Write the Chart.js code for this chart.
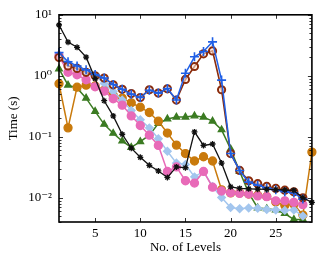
<!DOCTYPE html>
<html>
<head>
<meta charset="utf-8">
<script src="https://cdn.jsdelivr.net/npm/chart.js@4"></script>
<style>
  html, body { margin: 0; padding: 0; background: #fff; }
  #wrap { width: 318px; height: 259px; }
</style>
</head>
<body>
<div id="wrap"><canvas id="chart"></canvas></div>
<script>
// levels 1..29
const levels = Array.from({ length: 29 }, (_, i) => i + 1);

const blackTimes = [6.8, 3.56, 2.93, 2.02, 0.9, 0.39, 0.22, 0.11, 0.065, 0.046, 0.034, 0.0275, 0.0215, 0.032, 0.031,
  0.12, 0.072, 0.076, 0.037, 0.0151, 0.0142, 0.014, 0.0138, 0.0137, 0.0136, 0.0134, 0.0132, 0.010, 0.0084];
const blueTimes = [2.4, 1.7, 1.45, 1.25, 1.05, 0.92, 0.72, 0.6, 0.5, 0.44, 0.58, 0.52, 0.62, 0.4, 1.1,
  2.05, 2.5, 3.6, 0.85, 0.053, 0.028, 0.018, 0.016, 0.0145, 0.0135, 0.0125, 0.012, 0.0095];
const brownTimes = [2.0, 1.45, 1.32, 1.14, 1.0, 0.92, 0.71, 0.6, 0.51, 0.44, 0.59, 0.52, 0.61, 0.40, 0.87,
  1.42, 2.29, 2.56, 0.59, 0.053, 0.028, 0.019, 0.017, 0.0153, 0.0142, 0.0133, 0.0125, 0.010];
const pinkTimes = [2.1, 1.14, 1.04, 0.86, 0.66, 0.56, 0.42, 0.33, 0.22, 0.153, 0.106, 0.072, 0.027, 0.032, 0.019,
  0.0174, 0.027, 0.0149, 0.0129, 0.0121, 0.0118, 0.0115, 0.0107, 0.0104, 0.0089, 0.0089, 0.0084, 0.0077];
const lightBlueTimes = [2.2, 1.6, 1.4, 1.15, 1.0, 0.75, 0.55, 0.4, 0.27, 0.19, 0.14, 0.093, 0.058, 0.037, 0.035,
  0.022, 0.027, 0.0153, 0.0101, 0.0069, 0.0066, 0.0068, 0.0067, 0.0064, 0.0063, 0.0062, 0.0063, 0.005];
const orangeTimes = [0.74, 0.14, 0.65, 0.70, 0.68, 0.58, 0.48, 0.43, 0.36, 0.305, 0.25, 0.18, 0.115, 0.073, 0.053,
  0.04, 0.047, 0.04, 0.0135, 0.012, 0.012, 0.0115, 0.011, 0.0105, 0.0085, 0.0075, 0.0078, 0.0052, 0.056];
const greenTimes = [1.3, 0.7, 0.63, 0.43, 0.26, 0.16, 0.114, 0.085, 0.067, 0.083, 0.106, 0.165, 0.196, 0.21, 0.21,
  0.22, 0.21, 0.18, 0.13, 0.063, 0.027, 0.012, 0.0068, 0.0066, 0.0063, 0.0055, 0.0044, 0.0044];

const xTicks = [5, 10, 15, 20, 25];
const yTicks = [0.01, 0.1, 1, 10];
const yTickLabels = { 0.01: "10⁻²", 0.1: "10⁻¹", 1: "10⁰", 10: "10¹" };

function pts(values) {
  return values.map((v, i) => ({ x: levels[i], y: v }));
}

function series(values, color, style, radius, fill, width, pbw) {
  return {
    data: pts(values),
    borderColor: color,
    backgroundColor: color,
    borderWidth: width || 1.5,
    pointStyle: style,
    pointRadius: radius,
    pointBackgroundColor: fill || color,
    pointBorderColor: color,
    pointBorderWidth: pbw || 1.3,
    tension: 0,
    clip: false
  };
}

// pgfplots style frame with inward ticks
const frameTicks = {
  id: "frameTicks",
  afterDatasetsDraw(chart) {
    const { ctx, chartArea: a, scales: { x, y } } = chart;
    ctx.save();
    ctx.strokeStyle = "#000";
    ctx.lineWidth = 0.8;
    ctx.beginPath();
    xTicks.forEach(v => {
      const px = Math.round(x.getPixelForValue(v)) + 0.5;
      ctx.moveTo(px, a.bottom); ctx.lineTo(px, a.bottom - 4);
      ctx.moveTo(px, a.top); ctx.lineTo(px, a.top + 4);
    });
    for (let e = -3; e <= 1; e++) {
      for (let m = 1; m < 10; m++) {
        const v = m * Math.pow(10, e);
        if (v < 0.004 || v > 10) continue;
        const len = m === 1 ? 4 : 2.5;
        const py = Math.round(y.getPixelForValue(v)) + 0.5;
        ctx.moveTo(a.left, py); ctx.lineTo(a.left + len, py);
        ctx.moveTo(a.right, py); ctx.lineTo(a.right - len, py);
      }
    }
    ctx.stroke();
    ctx.lineWidth = 1.6;
    ctx.strokeRect(a.left, a.top, a.right - a.left, a.bottom - a.top);
    ctx.restore();
  }
};

const serif = "'Liberation Serif', 'DejaVu Serif', serif";

new Chart(document.getElementById("chart").getContext("2d"), {
  type: "line",
  data: {
    datasets: [
      series(blackTimes, "#111111", "star", 3, null, 1.3),
      series(blueTimes, "#1f5fe6", "cross", 4.5, null, 1.5, 1.6),
      series(brownTimes, "#8b2c0c", "circle", 3.6, "rgba(255,230,215,0.6)", 1.6, 2),
      series(pinkTimes, "#e86ab8", "circle", 4),
      series(lightBlueTimes, "#a3c6ee", "rectRot", 3.8),
      series(orangeTimes, "#c97a0c", "circle", 4),
      series(greenTimes, "#3b7b22", "triangle", 3.8)
    ]
  },
  options: {
    responsive: true,
    maintainAspectRatio: false,
    animation: false,
    layout: { padding: { top: 9, right: 2, left: 0, bottom: 0 } },
    plugins: { legend: { display: false }, tooltip: { enabled: false } },
    scales: {
      x: {
        type: "linear",
        min: 1,
        max: 29,
        afterBuildTicks: s => { s.ticks = xTicks.map(v => ({ value: v })); },
        afterFit: s => { s.height = 37; },
        grid: { display: false, drawTicks: false },
        border: { display: false },
        ticks: { color: "#000", padding: 4, maxRotation: 0, font: { family: serif, size: 13 } },
        title: { display: true, text: "No. of Levels", color: "#000", padding: { top: 0, bottom: 4 }, font: { family: serif, size: 13 } }
      },
      y: {
        type: "logarithmic",
        min: 0.004,
        max: 10,
        afterBuildTicks: s => { s.ticks = yTicks.map(v => ({ value: v })); },
        afterFit: s => { s.width = 59; },
        grid: { display: false, drawTicks: false },
        border: { display: false },
        ticks: { color: "#000", padding: 7, font: { family: serif, size: 13 }, callback: v => yTickLabels[v] },
        title: { display: true, text: "Time (s)", color: "#000", padding: { top: 6, bottom: 0 }, font: { family: serif, size: 13 } }
      }
    }
  },
  plugins: [frameTicks]
});
</script>
</body>
</html>
